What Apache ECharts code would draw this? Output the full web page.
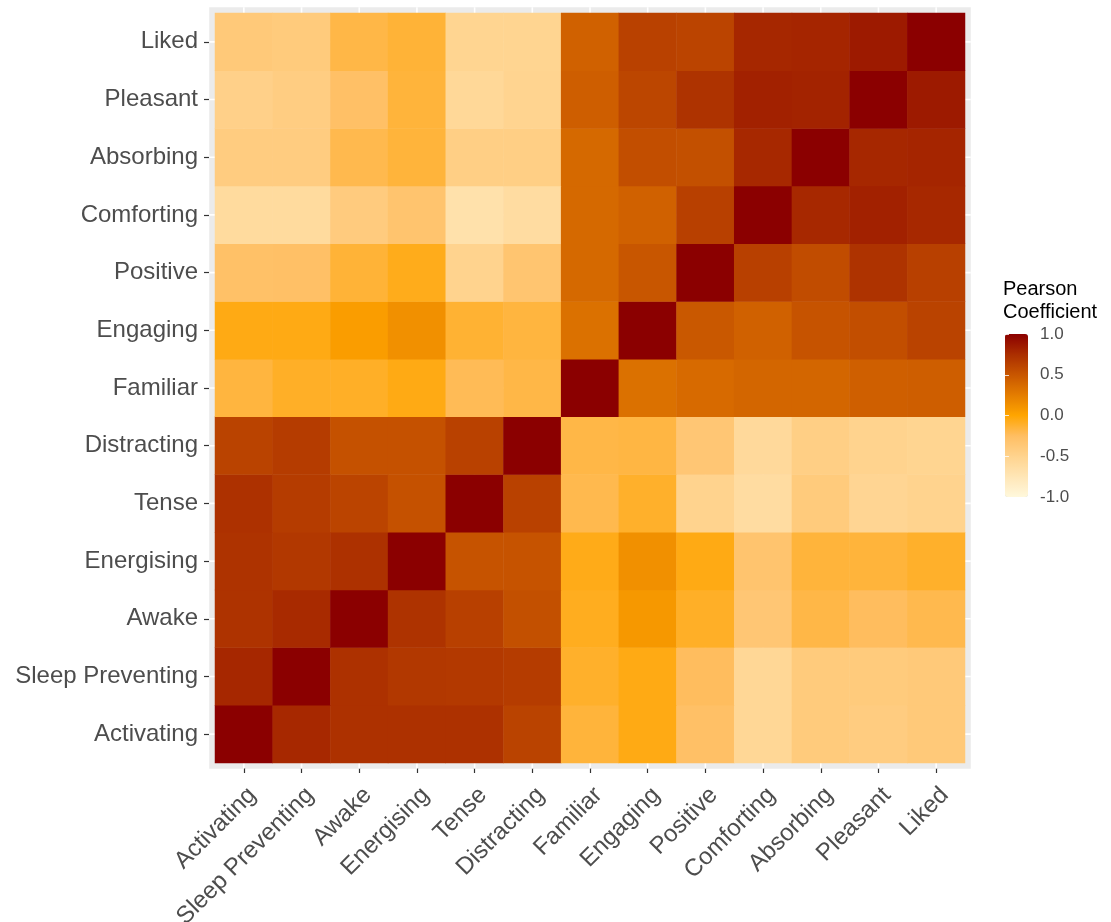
<!DOCTYPE html>
<html>
<head>
<meta charset="utf-8">
<title>Pearson correlation heatmap</title>
<script src="https://cdn.jsdelivr.net/npm/echarts@6/dist/echarts.min.js"></script>
<style>
  html, body { margin: 0; padding: 0; background: #ffffff; }
  #chart { width: 1111px; height: 922px; }
</style>
</head>
<body>
<div id="chart"></div>
<script>
// Variables, in axis order (x: left to right, y: bottom to top)
const variables = ['Activating', 'Sleep Preventing', 'Awake', 'Energising', 'Tense', 'Distracting',
  'Familiar', 'Engaging', 'Positive', 'Comforting', 'Absorbing', 'Pleasant', 'Liked'];

// Pearson coefficients per row variable; columns follow `variables`
const liked           = [-0.38, -0.40, -0.18, -0.14, -0.52, -0.52,  0.43,  0.63,  0.61,  0.79,  0.80,  0.86,  1.00];
const pleasant        = [-0.47, -0.43, -0.27, -0.15, -0.56, -0.51,  0.45,  0.60,  0.72,  0.82,  0.81,  1.00,  0.86];
const absorbing       = [-0.42, -0.42, -0.20, -0.15, -0.45, -0.45,  0.38,  0.55,  0.54,  0.78,  1.00,  0.79,  0.80];
const comforting      = [-0.60, -0.60, -0.41, -0.32, -0.68, -0.62,  0.38,  0.43,  0.64,  1.00,  0.78,  0.82,  0.78];
const positive        = [-0.28, -0.27, -0.14, -0.07, -0.50, -0.33,  0.38,  0.50,  1.00,  0.64,  0.56,  0.72,  0.64];
const engaging        = [-0.05, -0.05,  0.05,  0.13, -0.13, -0.16,  0.33,  1.00,  0.49,  0.43,  0.52,  0.55,  0.62];
const familiar        = [-0.16, -0.10, -0.10, -0.05, -0.22, -0.18,  1.00,  0.33,  0.37,  0.40,  0.40,  0.44,  0.45];
const distracting     = [ 0.62,  0.66,  0.53,  0.53,  0.63,  1.00, -0.18, -0.17, -0.35, -0.58, -0.45, -0.50, -0.52];
const tense           = [ 0.73,  0.66,  0.61,  0.53,  1.00,  0.63, -0.20, -0.11, -0.50, -0.62, -0.40, -0.53, -0.50];
const energising      = [ 0.72,  0.69,  0.73,  1.00,  0.52,  0.52, -0.06,  0.13, -0.05, -0.32, -0.15, -0.15, -0.11];
const awake           = [ 0.72,  0.77,  1.00,  0.72,  0.64,  0.54, -0.08,  0.08, -0.10, -0.35, -0.18, -0.24, -0.20];
const sleepPreventing = [ 0.79,  1.00,  0.73,  0.69,  0.68,  0.66, -0.11, -0.05, -0.24, -0.55, -0.40, -0.40, -0.38];
const activating      = [ 1.00,  0.78,  0.73,  0.73,  0.73,  0.62, -0.15, -0.05, -0.27, -0.55, -0.40, -0.42, -0.38];

// Colour-bar tick labels
const legendTicks = [-1, -0.5, 0, 0.5, 1];

// Rows listed in the same order as `variables`
const rows = [activating, sleepPreventing, awake, energising, tense, distracting,
  familiar, engaging, positive, comforting, absorbing, pleasant, liked];

const cells = [];
rows.forEach((row, yi) => row.forEach((v, xi) => cells.push([xi, yi, v])));
const indices = variables.map((_, i) => i);

const FONT = '"Liberation Sans", Arial, Helvetica, sans-serif';
const chart = echarts.init(document.getElementById('chart'), null, { renderer: 'canvas' });

// Grey panel, with 0.1 band of padding around the tiles
function renderPanel(params, api) {
  const cs = params.coordSys;
  const bw = api.size([1, 1]);
  const px = bw[0] * 0.1, py = bw[1] * 0.1;
  return {
    type: 'rect',
    shape: { x: cs.x - px, y: cs.y - py, width: cs.width + 2 * px, height: cs.height + 2 * py },
    style: { fill: '#EBEBEB' }
  };
}

// White major grid lines at each category centre
function renderGridLines(params, api) {
  const cs = params.coordSys;
  const bw = api.size([1, 1]);
  const px = bw[0] * 0.1, py = bw[1] * 0.1;
  const i = api.value(0);
  const c = api.coord([i, i]);
  const st = { stroke: '#FFFFFF', lineWidth: 1.6 };
  return {
    type: 'group',
    children: [
      { type: 'line', shape: { x1: c[0], y1: cs.y - py, x2: c[0], y2: cs.y + cs.height + py }, style: st },
      { type: 'line', shape: { x1: cs.x - px, y1: c[1], x2: cs.x + cs.width + px, y2: c[1] }, style: st }
    ]
  };
}

const option = {
  backgroundColor: '#FFFFFF',
  animation: false,
  textStyle: { fontFamily: FONT },
  title: {
    text: 'Pearson\nCoefficient',
    left: 1003, top: 278, padding: 0,
    textStyle: { fontFamily: FONT, fontSize: 20, fontWeight: 'normal', color: '#000000', lineHeight: 23 }
  },
  grid: [
    { left: 215, top: 13, width: 750, height: 750, outerBoundsMode: 'none', containLabel: false },
    { left: 1005, top: 334, width: 23, height: 163, outerBoundsMode: 'none', containLabel: false }
  ],
  xAxis: [
    {
      type: 'category', data: variables, gridIndex: 0, position: 'bottom', offset: 5,
      axisLine: { show: false },
      axisTick: { show: true, alignWithLabel: true, length: 5, lineStyle: { color: '#333333', width: 1.2 } },
      axisLabel: { rotate: 45, interval: 0, margin: 15, align: 'right', verticalAlign: 'top',
        fontSize: 24, color: '#4D4D4D', fontFamily: FONT, hideOverlap: false },
      splitLine: { show: false }
    },
    { type: 'value', gridIndex: 1, show: false, min: 0, max: 1 }
  ],
  yAxis: [
    {
      type: 'category', data: variables, gridIndex: 0, position: 'left', offset: 6,
      axisLine: { show: false },
      axisTick: { show: true, alignWithLabel: true, length: 5, lineStyle: { color: '#333333', width: 1.2 } },
      axisLabel: { interval: 0, margin: 11, fontSize: 24, color: '#4D4D4D', fontFamily: FONT },
      splitLine: { show: false }
    },
    {
      type: 'value', gridIndex: 1, position: 'right', min: -1, max: 1, interval: 0.5, z: 10,
      axisLine: { show: false },
      axisTick: { show: true, inside: true, length: 4, lineStyle: { color: 'rgba(255,255,255,0.8)', width: 1 } },
      axisLabel: { margin: 12, fontSize: 17, color: '#4D4D4D', fontFamily: FONT,
        formatter: v => legendTicks.includes(v) ? v.toFixed(1) : '' },
      splitLine: { show: false }
    },
    {
      type: 'value', gridIndex: 1, position: 'left', min: -1, max: 1, interval: 0.5, z: 10,
      axisLine: { show: false },
      axisTick: { show: true, inside: true, length: 4, lineStyle: { color: 'rgba(255,255,255,0.8)', width: 1 } },
      axisLabel: { show: false },
      splitLine: { show: false }
    }
  ],
  visualMap: {
    type: 'continuous',
    min: -1, max: 1,
    seriesIndex: 2,
    calculable: false,
    hoverLink: false,
    orient: 'vertical',
    left: 1005, top: 334,
    padding: 0,
    itemWidth: 23, itemHeight: 163,
    text: null,
    showLabel: false,
    inRange: {
      color: ['#FFF8DC', '#FFE6B6', '#FFD38E', '#FFBE62', '#FFA500', '#E47D00', '#C85600', '#AB2E00', '#8B0000']
    }
  },
  series: [
    {
      type: 'custom', xAxisIndex: 0, yAxisIndex: 0, z: 0, silent: true,
      data: [[0, 0]], renderItem: renderPanel, clip: false
    },
    {
      type: 'custom', xAxisIndex: 0, yAxisIndex: 0, z: 1, silent: true,
      data: indices.map(i => [i, i]), renderItem: renderGridLines, clip: false
    },
    {
      type: 'heatmap', xAxisIndex: 0, yAxisIndex: 0, z: 2,
      data: cells,
      itemStyle: { borderWidth: 0 },
      emphasis: { disabled: true }
    }
  ]
};

chart.setOption(option);
</script>
</body>
</html>
